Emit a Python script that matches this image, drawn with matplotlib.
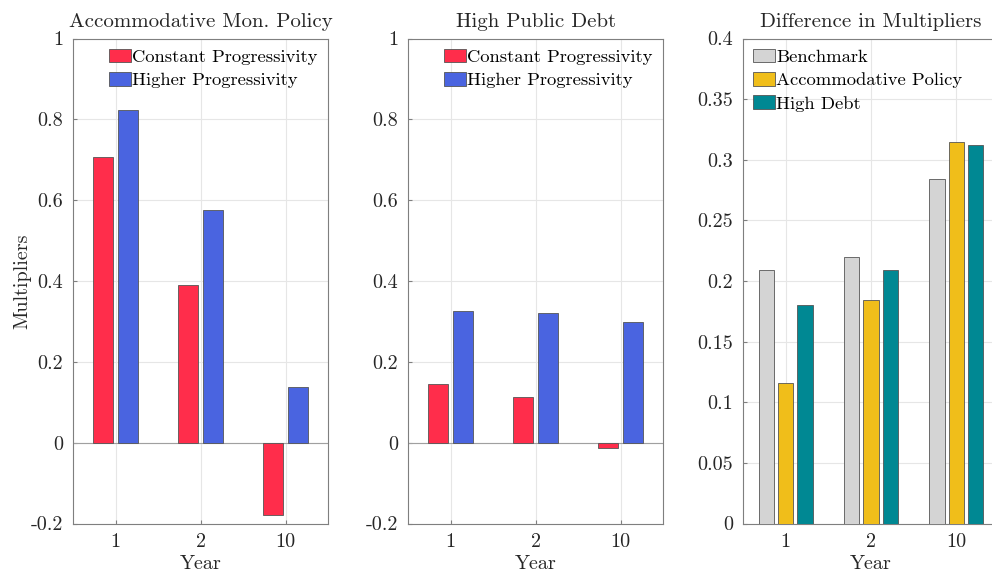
import matplotlib
matplotlib.use('Agg')
import matplotlib.pyplot as plt
import numpy as np

plt.rcParams['font.family'] = ['cmr10', 'DejaVu Serif']
plt.rcParams['axes.unicode_minus'] = False
plt.rcParams['axes.formatter.use_mathtext'] = False

# data
years = ['1', '2', '10']
accom_constant = [0.708, 0.390, -0.179]
accom_higher = [0.824, 0.575, 0.137]
debt_constant = [0.146, 0.114, -0.014]
debt_higher = [0.326, 0.322, 0.298]
diff_benchmark = [0.209, 0.220, 0.2845]
diff_accom = [0.1156, 0.1846, 0.3146]
diff_debt = [0.180, 0.2088, 0.3122]

red = '#FF2D4B'
blue = '#4A64E0'
gray = '#D4D4D4'
yellow = '#F0BE1A'
teal = '#008893'
edge = '#555555'
axis_col = '#7F7F7F'
text_col = '#262626'

fig = plt.figure(figsize=(9.92, 5.73), dpi=100)

top_px, bot_px = 38.5, 523.5
bottom = 1 - bot_px / 573
height = (bot_px - top_px) / 573
ax1 = fig.add_axes([73 / 992, bottom, 255 / 992, height])
ax2 = fig.add_axes([408 / 992, bottom, 255 / 992, height])
ax3 = fig.add_axes([743 / 992, bottom, 256 / 992, height])

x = np.arange(1, len(years) + 1)
leg_kw = dict(frameon=False, fontsize=13.4, handlelength=1.15, handleheight=0.75,
              handletextpad=0.1, labelspacing=0.38, borderaxespad=0.15)


def style(ax):
    ax.grid(True, color='#E6E6E6', linewidth=0.8)
    ax.set_axisbelow(True)
    for s in ax.spines.values():
        s.set_color(axis_col)
        s.set_linewidth(0.8)
    ax.tick_params(direction='in', length=3, color=axis_col, labelsize=14.5,
                   labelcolor=text_col, pad=7)
    ax.set_xticks(x)
    ax.set_xticklabels(years)
    ax.set_xlim(0.5, 3.5)
    ax.set_xlabel('Year', fontsize=14.5, color=text_col, labelpad=3)


def two_bar_panel(ax, const, higher, title):
    w = 0.23
    off = 0.145
    ax.bar(x - off, const, w, color=red, edgecolor=edge, linewidth=0.6,
           label='Constant Progressivity', zorder=3)
    ax.bar(x + off, higher, w, color=blue, edgecolor=edge, linewidth=0.6,
           label='Higher Progressivity', zorder=3)
    ax.axhline(0, color='#A0A0A0', linewidth=0.8, zorder=2)
    style(ax)
    ax.set_ylim(-0.2, 1)
    ax.set_yticks([-0.2, 0, 0.2, 0.4, 0.6, 0.8, 1])
    ax.set_yticklabels(['-0.2', '0', '0.2', '0.4', '0.6', '0.8', '1'])
    ax.set_title(title, fontsize=15, color=text_col, pad=8)
    ax.legend(loc='upper right', **leg_kw)


two_bar_panel(ax1, accom_constant, accom_higher, 'Accommodative Mon. Policy')
two_bar_panel(ax2, debt_constant, debt_higher, 'High Public Debt')
ax1.set_ylabel('Multipliers', fontsize=14.5, color=text_col)
ax1.yaxis.set_label_coords(-0.165, 0.5)

w3 = 0.18
off3 = 0.225
ax3.bar(x - off3, diff_benchmark, w3, color=gray, edgecolor=edge, linewidth=0.6,
        label='Benchmark', zorder=3)
ax3.bar(x, diff_accom, w3, color=yellow, edgecolor=edge, linewidth=0.6,
        label='Accommodative Policy', zorder=3)
ax3.bar(x + off3, diff_debt, w3, color=teal, edgecolor=edge, linewidth=0.6,
        label='High Debt', zorder=3)
style(ax3)
ax3.set_ylim(0, 0.4)
yt = [0, 0.05, 0.1, 0.15, 0.2, 0.25, 0.3, 0.35, 0.4]
ax3.set_yticks(yt)
ax3.set_yticklabels(['0', '0.05', '0.1', '0.15', '0.2', '0.25', '0.3', '0.35', '0.4'])
ax3.set_title('Difference in Multipliers', fontsize=15, color=text_col, pad=8)
ax3.legend(loc='upper left', **leg_kw)

fig.savefig('out.png', dpi=100)
